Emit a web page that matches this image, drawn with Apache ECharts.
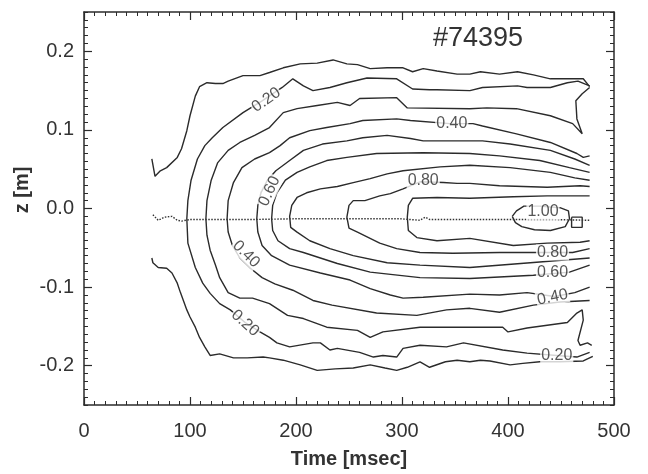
<!DOCTYPE html>
<html>
<head>
<meta charset="utf-8">
<script src="https://cdn.jsdelivr.net/npm/echarts@6/dist/echarts.min.js"></script>
<style>
  html, body { margin: 0; padding: 0; background: #fff; }
  #myChart { width: 648px; height: 474px; }
</style>
</head>
<body>
<div id="myChart"></div>
<script>
// axis ticks
let timeRange = [0, 500]
let zRange = [-0.25, 0.25]
let zMajorTicks = [-0.2, -0.1, 0, 0.1, 0.2]

// contour lines, [time msec, z m]
// 0.1 level, open on the left (two pieces)
let c01Upper = [[64, 0.063], [67, 0.041], [72, 0.048], [78, 0.052], [88, 0.065], [92, 0.076], [97, 0.099], [100, 0.118], [105, 0.143], [109, 0.155], [116, 0.160], [124, 0.159], [131, 0.159], [136, 0.162], [150, 0.169], [166, 0.169], [175, 0.173], [188, 0.179], [204, 0.184], [220, 0.185], [235, 0.189], [248, 0.184], [258, 0.183], [270, 0.178], [286, 0.179], [301, 0.179], [310, 0.174], [320, 0.178], [333, 0.175], [352, 0.171], [364, 0.171], [374, 0.174], [392, 0.171], [409, 0.174], [424, 0.170], [440, 0.165], [471, 0.165], [477, 0.155]]
let c01Lower = [[64, -0.063], [65, -0.069], [70, -0.075], [78, -0.076], [83, -0.082], [88, -0.095], [91, -0.107], [97, -0.129], [100, -0.138], [105, -0.151], [109, -0.164], [114, -0.176], [119, -0.187], [128, -0.185], [141, -0.190], [154, -0.190], [169, -0.189], [175, -0.190], [188, -0.193], [204, -0.199], [220, -0.206], [237, -0.204], [254, -0.203], [270, -0.199], [284, -0.203], [295, -0.206], [305, -0.202], [317, -0.195], [326, -0.202], [341, -0.195], [352, -0.193], [364, -0.195], [374, -0.193], [383, -0.194], [402, -0.199], [414, -0.197], [430, -0.195], [449, -0.195], [471, -0.194], [480, -0.188]]

// closed-on-the-left levels: upper branch and lower branch, both from the nose to the right
let c02Upper = [[97, -0.013], [98, 0.010], [101, 0.036], [107, 0.063], [114, 0.080], [121, 0.090], [131, 0.103], [150, 0.122], [168, 0.137], [187, 0.154], [197, 0.165], [207, 0.156], [216, 0.150], [232, 0.154], [248, 0.160], [267, 0.166], [295, 0.165], [310, 0.152], [326, 0.151], [333, 0.151], [364, 0.150], [376, 0.154], [409, 0.156], [418, 0.154], [440, 0.154], [456, 0.160], [466, 0.162], [477, 0.156]]
let c02Lower = [[98, -0.044], [105, -0.075], [112, -0.095], [119, -0.108], [128, -0.121], [138, -0.129], [152, -0.145], [166, -0.157], [175, -0.164], [182, -0.171], [194, -0.176], [216, -0.171], [223, -0.171], [232, -0.180], [239, -0.178], [260, -0.183], [273, -0.189], [282, -0.187], [295, -0.189], [301, -0.178], [317, -0.174], [342, -0.176], [358, -0.171], [395, -0.180], [418, -0.184], [446, -0.187], [465, -0.189], [477, -0.183]]

let c03Upper = [[115, -0.013], [116, 0.010], [120, 0.036], [126, 0.058], [136, 0.074], [147, 0.084], [161, 0.093], [175, 0.103], [188, 0.122], [201, 0.127], [220, 0.131], [239, 0.135], [251, 0.131], [260, 0.140], [295, 0.141], [305, 0.128], [364, 0.127], [380, 0.128], [408, 0.127], [440, 0.118], [461, 0.108], [470, 0.095], [465, 0.114], [464, 0.137], [470, 0.146], [477, 0.154]]
let c03Lower = [[116, -0.034], [119, -0.053], [124, -0.072], [128, -0.088], [136, -0.107], [147, -0.114], [159, -0.114], [175, -0.121], [192, -0.136], [207, -0.140], [229, -0.151], [258, -0.155], [270, -0.164], [282, -0.157], [317, -0.151], [364, -0.151], [395, -0.151], [400, -0.157], [418, -0.152], [456, -0.145], [465, -0.133], [470, -0.129], [471, -0.142], [466, -0.168], [468, -0.174], [475, -0.171], [479, -0.174]]

let c04Upper = [[135, -0.013], [136, 0.010], [141, 0.033], [149, 0.052], [161, 0.063], [175, 0.071], [185, 0.080], [194, 0.090], [213, 0.099], [229, 0.103], [251, 0.108], [263, 0.112], [295, 0.114], [308, 0.112], [345, 0.108], [367, 0.108], [376, 0.105], [408, 0.095], [440, 0.084], [465, 0.070], [471, 0.065], [477, 0.067]]
let c04Lower = [[136, -0.030], [140, -0.047], [147, -0.063], [157, -0.076], [168, -0.088], [180, -0.096], [197, -0.104], [216, -0.117], [234, -0.123], [276, -0.133], [314, -0.136], [342, -0.129], [364, -0.127], [392, -0.132], [424, -0.123], [449, -0.119], [477, -0.117]]

let c05Upper = [[163, -0.013], [164, 0.004], [167, 0.020], [173, 0.036], [181, 0.048], [194, 0.061], [207, 0.074], [225, 0.082], [248, 0.086], [263, 0.090], [286, 0.093], [308, 0.089], [320, 0.086], [364, 0.086], [376, 0.086], [402, 0.082], [440, 0.074], [463, 0.063], [477, 0.055]]
let c05Lower = [[164, -0.030], [168, -0.047], [177, -0.060], [194, -0.072], [223, -0.082], [251, -0.091], [270, -0.102], [289, -0.110], [301, -0.114], [320, -0.113], [364, -0.109], [392, -0.110], [418, -0.107], [444, -0.112], [463, -0.107], [477, -0.100]]

let c06Upper = [[177, -0.013], [178, 0.004], [182, 0.020], [190, 0.036], [201, 0.046], [213, 0.053], [229, 0.061], [248, 0.065], [276, 0.070], [320, 0.071], [364, 0.070], [392, 0.067], [430, 0.061], [458, 0.052], [477, 0.046]]
let c06Lower = [[178, -0.028], [183, -0.041], [194, -0.051], [207, -0.056], [239, -0.070], [270, -0.081], [317, -0.088], [364, -0.089], [424, -0.085], [458, -0.081], [477, -0.072]]

let c07Upper = [[194, -0.010], [196, 0.004], [201, 0.014], [210, 0.020], [223, 0.025], [239, 0.028], [254, 0.033], [270, 0.038], [286, 0.044], [301, 0.048], [336, 0.053], [364, 0.055], [402, 0.052], [440, 0.046], [463, 0.039], [477, 0.036]]
let c07Lower = [[195, -0.024], [201, -0.030], [213, -0.041], [232, -0.051], [254, -0.060], [286, -0.069], [317, -0.072], [364, -0.075], [421, -0.069], [477, -0.063]]

let c08Upper = [[248, -0.011], [250, 0.004], [254, 0.010], [265, 0.010], [279, 0.016], [289, 0.019], [301, 0.025], [317, 0.034], [339, 0.033], [352, 0.032], [364, 0.032], [392, 0.029], [437, 0.027], [468, 0.029], [477, 0.028]]
let c08Lower = [[250, -0.025], [258, -0.030], [279, -0.044], [295, -0.051], [317, -0.056], [348, -0.057], [392, -0.056], [424, -0.056], [461, -0.056], [477, -0.051]]

let c09Upper = [[305, -0.011], [306, 0.004], [310, 0.013], [333, 0.014], [364, 0.013], [405, 0.015], [437, 0.016], [477, 0.016]]
let c09Lower = [[306, -0.028], [314, -0.037], [333, -0.041], [364, -0.038], [405, -0.047], [437, -0.044], [468, -0.043], [477, -0.041]]

// 1.0 level: small closed loop plus a tiny island
let c10Loop = [[404, -0.010], [408, -0.003], [415, 0.003], [430, 0.003], [449, 0.001], [457, -0.003], [458, -0.013], [454, -0.023], [440, -0.028], [425, -0.027], [413, -0.023], [407, -0.018], [404, -0.010]]
let c10Island = [[460, -0.011], [470, -0.011], [470, -0.024], [460, -0.024], [460, -0.011]]

// magnetic axis trace (dotted)
let axisTrace = [[65, -0.008], [70, -0.015], [76, -0.011], [83, -0.010], [88, -0.015], [92, -0.016], [100, -0.014], [157, -0.014], [204, -0.013], [251, -0.013], [298, -0.013], [317, -0.015], [322, -0.011], [326, -0.014], [392, -0.014], [440, -0.014], [477, -0.015]]

// contour labels: [time, z, text, rotation]
let contourLabels = [
  [172, 0.138, '0.20', 35],
  [347, 0.108, '0.40', 0],
  [320, 0.036, '0.80', 0],
  [175, 0.022, '0.60', 65],
  [153, -0.058, '0.40', -45],
  [152, -0.146, '0.20', -42],
  [433, -0.004, '1.00', 0],
  [442, -0.056, '0.80', 0],
  [442, -0.081, '0.60', 0],
  [442, -0.113, '0.40', 12],
  [446, -0.187, '0.20', 0]
]

let shotName = '#74395'

function uShape (upper, lower) {
  return upper.slice().reverse().concat(lower)
}

let pieces = [
  c01Upper, c01Lower,
  uShape(c02Upper, c02Lower),
  uShape(c03Upper, c03Lower),
  uShape(c04Upper, c04Lower),
  uShape(c05Upper, c05Lower),
  uShape(c06Upper, c06Lower),
  uShape(c07Upper, c07Lower),
  uShape(c08Upper, c08Lower),
  uShape(c09Upper, c09Lower),
  c10Loop, c10Island
]

let plotFont = '"Liberation Sans", "DejaVu Sans", sans-serif'
let ink = '#2b2b2b'

let series = []
for (let i in pieces) {
  series.push({
    type: 'line',
    data: pieces[i],
    showSymbol: false,
    symbol: 'none',
    silent: true,
    z: 2,
    lineStyle: { color: ink, width: 1.4 }
  })
}

series.push({
  type: 'line',
  data: axisTrace,
  showSymbol: false,
  symbol: 'none',
  silent: true,
  z: 3,
  lineStyle: { color: '#333', width: 1.4, type: [1.5, 1.5] }
})

let labelData = []
for (let i in contourLabels) {
  let item = contourLabels[i]
  labelData.push({
    value: [item[0], item[1]],
    label: { formatter: item[2], rotate: item[3] }
  })
}

series.push({
  type: 'scatter',
  data: labelData,
  symbolSize: 1,
  silent: true,
  z: 10,
  itemStyle: { color: 'rgba(0,0,0,0)' },
  label: {
    show: true,
    position: 'inside',
    fontFamily: plotFont,
    fontSize: 16,
    color: ink,
    backgroundColor: '#fff',
    padding: [0, 1]
  }
})

function xAxisFor (pos, withLabels) {
  return {
    type: 'value',
    position: pos,
    min: timeRange[0],
    max: timeRange[1],
    interval: 100,
    axisLine: { show: true, onZero: false, lineStyle: { color: ink, width: 1.5 } },
    axisTick: { show: true, inside: true, length: 8, lineStyle: { color: ink, width: 1.2 } },
    minorTick: { show: true, splitNumber: 10, length: 4, lineStyle: { color: ink, width: 1 } },
    splitLine: { show: false },
    minorSplitLine: { show: false },
    axisLabel: { show: withLabels, margin: 16, fontFamily: plotFont, fontSize: 20, color: '#333' },
    name: withLabels ? 'Time [msec]' : '',
    nameLocation: 'middle',
    nameGap: 44,
    nameTextStyle: { fontFamily: plotFont, fontWeight: 'bold', fontSize: 20, color: '#333' }
  }
}

function yMajor (pos, withLabels) {
  return {
    type: 'value',
    position: pos,
    min: zRange[0],
    max: zRange[1],
    axisLine: { show: true, onZero: false, lineStyle: { color: ink, width: 1.5 } },
    axisTick: { show: true, inside: true, length: 8, customValues: zMajorTicks, lineStyle: { color: ink, width: 1.2 } },
    splitLine: { show: false },
    axisLabel: {
      show: withLabels,
      customValues: zMajorTicks,
      margin: 10,
      fontFamily: plotFont,
      fontSize: 20,
      color: '#333',
      formatter: function (v) {
        return v.toFixed(1)
      }
    }
  }
}

function yMinor (pos) {
  return {
    type: 'value',
    position: pos,
    min: zRange[0],
    max: zRange[1],
    interval: 0.01,
    axisLine: { show: false, onZero: false },
    axisTick: { show: true, inside: true, length: 4, lineStyle: { color: ink, width: 1 } },
    splitLine: { show: false },
    axisLabel: { show: false }
  }
}

let options = {
  backgroundColor: '#fff',
  animation: false,
  title: {
    text: shotName,
    left: 428,
    top: 20,
    textStyle: { fontFamily: plotFont, fontWeight: 'normal', fontSize: 27, color: '#333' }
  },
  grid: { left: 84, right: 34, top: 12, bottom: 68 },
  xAxis: [xAxisFor('bottom', true), xAxisFor('top', false)],
  yAxis: [yMajor('left', true), yMinor('left'), yMajor('right', false), yMinor('right')],
  graphic: [{
    type: 'text',
    x: 22,
    y: 190,
    rotation: Math.PI / 2,
    style: {
      text: 'z [m]',
      font: 'bold 20px "Liberation Sans", sans-serif',
      fill: '#333',
      align: 'center',
      verticalAlign: 'middle'
    }
  }],
  series: series
}

let myChart = echarts.init(document.getElementById('myChart'), null, { renderer: 'canvas' })
myChart.setOption(options)
</script>
</body>
</html>
